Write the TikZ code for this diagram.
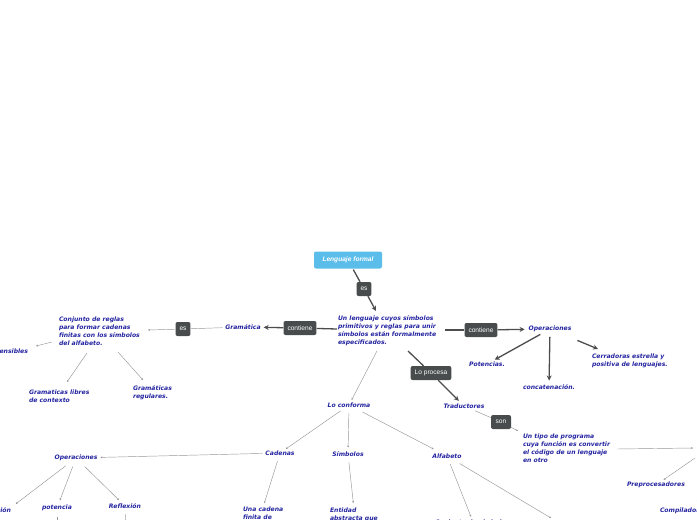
\documentclass[tikz,border=0pt]{standalone}
\usepackage{fontspec}
\setmainfont{Liberation Sans}
\newfontfamily\dv{DejaVu Sans}
\usetikzlibrary{arrows.meta}
\definecolor{txtblue}{RGB}{35,35,160}
\definecolor{boxdark}{RGB}{72,76,76}
\definecolor{boxlight}{RGB}{91,189,234}
\definecolor{linedark}{RGB}{77,77,77}
\definecolor{linethin}{RGB}{150,150,150}
\tikzset{
  lbl/.style={text=txtblue, inner sep=0pt, outer sep=0pt, font=\dv\bfseries\itshape\fontsize{6.1}{8}\selectfont},
  mlbl/.style={lbl, align=left, anchor=north west},
  darkbox/.style={fill=boxdark, text=white, rounded corners=2pt, inner xsep=4pt, minimum height=14pt, font=\fontsize{6.6}{8}\selectfont},
  lightbox/.style={fill=boxlight, text=white, rounded corners=2pt, minimum width=68pt, minimum height=17pt, font=\bfseries\itshape\fontsize{6.6}{8}\selectfont},
  thick line/.style={draw=linedark, line width=1.3pt},
  thick arrow/.style={thick line, -{Stealth[length=5pt,width=5pt]}},
  thin arrow/.style={draw=linethin, line width=0.45pt, -{Stealth[length=2pt,width=2pt]}},
  thin line/.style={draw=linethin, line width=0.45pt},
}
\begin{document}
\begin{tikzpicture}[x=1pt,y=-1pt]
\useasboundingbox (0,0) rectangle (697,520);
\clip (0,0) rectangle (697,520);
% nodes
\node[lightbox] (lf) at (348,260) {Lenguaje formal};
\node[darkbox] (es1) at (364,289) {es};
\node[mlbl] (main) at (338,316) {Un lenguaje cuyos símbolos\\primitivos y reglas para unir\\símbolos están formalmente\\especificados.};
\node[darkbox] (cont1) at (300,328) {contiene};
\node[lbl] (gram) at (243,327) {Gramática};
\node[darkbox] (es2) at (183,329) {es};
\node[mlbl] (conj) at (59,317) {Conjunto de reglas\\para formar cadenas\\finitas con los símbolos\\del alfabeto.};
\node[lbl, anchor=east] (sens) at (28,351) {sensibles};
\node[mlbl] (glc) at (29,389.5) {Gramaticas libres\\de contexto};
\node[mlbl] (greg) at (133,385.5) {Gramáticas\\regulares.};
\node[darkbox] (cont2) at (481,330) {contiene};
\node[lbl] (ops1) at (550,329) {Operaciones};
\node[lbl] (pot) at (487,364) {Potencias.};
\node[lbl] (conc) at (549,387) {concatenación.};
\node[mlbl] (cerr) at (592,354) {Cerradoras estrella y\\positiva de lenguajes.};
\node[darkbox] (lp) at (431,373) {Lo procesa};
\node[lbl] (trad) at (464,406) {Traductores};
\node[lbl] (lc) at (349,405) {Lo conforma};
\node[darkbox, minimum width=20pt] (son) at (501,422) {son};
\node[mlbl] (tipo) at (523,434) {Un tipo de programa\\cuya función es convertir\\el código de un lenguaje\\en otro};
\node[lbl] (prep) at (656,485) {Preprocesadores};
\node[lbl, anchor=west] (comp) at (660,511) {Compiladores};
\node[lbl] (cad) at (280,453) {Cadenas};
\node[lbl] (sim) at (348,454) {Símbolos};
\node[lbl] (alf) at (447,456) {Alfabeto};
\node[lbl] (ops2) at (76,458) {Operaciones};
\node[lbl, anchor=east] (concat) at (11,510) {concatenación};
\node[lbl] (poten) at (57,508) {potencia};
\node[lbl] (refl) at (125,506) {Reflexión};
\node[mlbl] (una) at (243,507) {Una cadena\\finita de};
\node[mlbl] (ent) at (330,508) {Entidad\\abstracta que};
\node[mlbl] (alfc) at (435,519.5) {Conjunto de símbolos};
% connector end points
\coordinate (mainin) at (376,311);
\coordinate (mainout1) at (337,329);
\coordinate (mainout2) at (445,330);
\coordinate (mainout3) at (408,351);
\coordinate (mainout4) at (377,351);
\coordinate (conjin) at (148,330);
\coordinate (conjout1) at (52,342);
\coordinate (conjout2) at (87,353);
\coordinate (conjout3) at (118,352);
\coordinate (sensin) at (36,346);
\coordinate (glcin) at (67,382);
\coordinate (gregin) at (143,380);
\coordinate (cerrin) at (598,349);
\coordinate (tipoin) at (518,431);
\coordinate (tipoout) at (617,449);
\coordinate (tin) at (693,448);
\coordinate (tout1) at (695,458);
\coordinate (tout2) at (697,500);
\coordinate (potdown) at (57,530);
\coordinate (refdown) at (126,530);
\coordinate (alfout) at (551,518);
% connectors
\draw[thick line, shorten <=1pt] (lf) -- (es1);
\draw[thick arrow] (es1) -- (mainin);
\draw[thick line] (mainout1) -- (cont1);
\draw[thick arrow, shorten >=3pt] (cont1) -- (gram);
\draw[thin line, shorten <=3pt] (gram) -- (es2);
\draw[thin arrow] (es2) -- (conjin);
\draw[thin arrow] (conjout1) -- (sensin);
\draw[thin arrow] (conjout2) -- (glcin);
\draw[thin arrow] (conjout3) -- (gregin);
\draw[thick line] (mainout2) -- (cont2);
\draw[thick arrow, shorten >=4pt] (cont2) -- (ops1);
\draw[thick arrow, shorten <=5pt, shorten >=4pt] (ops1) -- (pot);
\draw[thick arrow, shorten <=5pt, shorten >=4pt] (ops1) -- (conc);
\draw[thick arrow, shorten <=22pt] (ops1) -- (cerrin);
\draw[thick line] (mainout3) -- (lp);
\draw[thick arrow, shorten >=4pt] (lp) -- (trad);
\draw[thin arrow, shorten >=3pt] (mainout4) -- (lc);
\draw[thin line, shorten <=6pt] (trad) -- (son);
\draw[thin arrow] (son) -- (tipoin);
\draw[thin arrow] (tipoout) -- (tin);
\draw[thin arrow, shorten >=4pt] (tout1) -- (prep);
\draw[thin arrow] (tout2) -- (comp.north east);
\draw[thin arrow, shorten <=6pt, shorten >=3pt] (lc) -- (cad);
\draw[thin arrow, shorten <=6pt, shorten >=4pt] (lc) -- (sim);
\draw[thin arrow, shorten <=10pt, shorten >=10pt] (lc) -- (alf);
\draw[thin arrow, shorten <=3pt, shorten >=3pt] (cad) -- (ops2);
\draw[thin arrow, shorten <=8pt, shorten >=6pt] (ops2) -- (concat.north east);
\draw[thin arrow, shorten <=6pt, shorten >=5pt] (ops2) -- (poten);
\draw[thin arrow, shorten <=8pt, shorten >=5pt] (ops2) -- (refl);
\draw[thin line, shorten <=6pt] (poten) -- (potdown);
\draw[thin line, shorten <=6pt] (refl) -- (refdown);
\draw[thin arrow, shorten <=6pt, shorten >=4pt] (cad) -- (una.north);
\draw[thin arrow, shorten <=6pt, shorten >=5pt] (sim) -- (ent.north);
\draw[thin arrow, shorten <=6pt, shorten >=3pt] (alf) -- (alfc.north);
\draw[thin arrow, shorten <=10pt] (alf) -- (alfout);
\end{tikzpicture}
\end{document}
